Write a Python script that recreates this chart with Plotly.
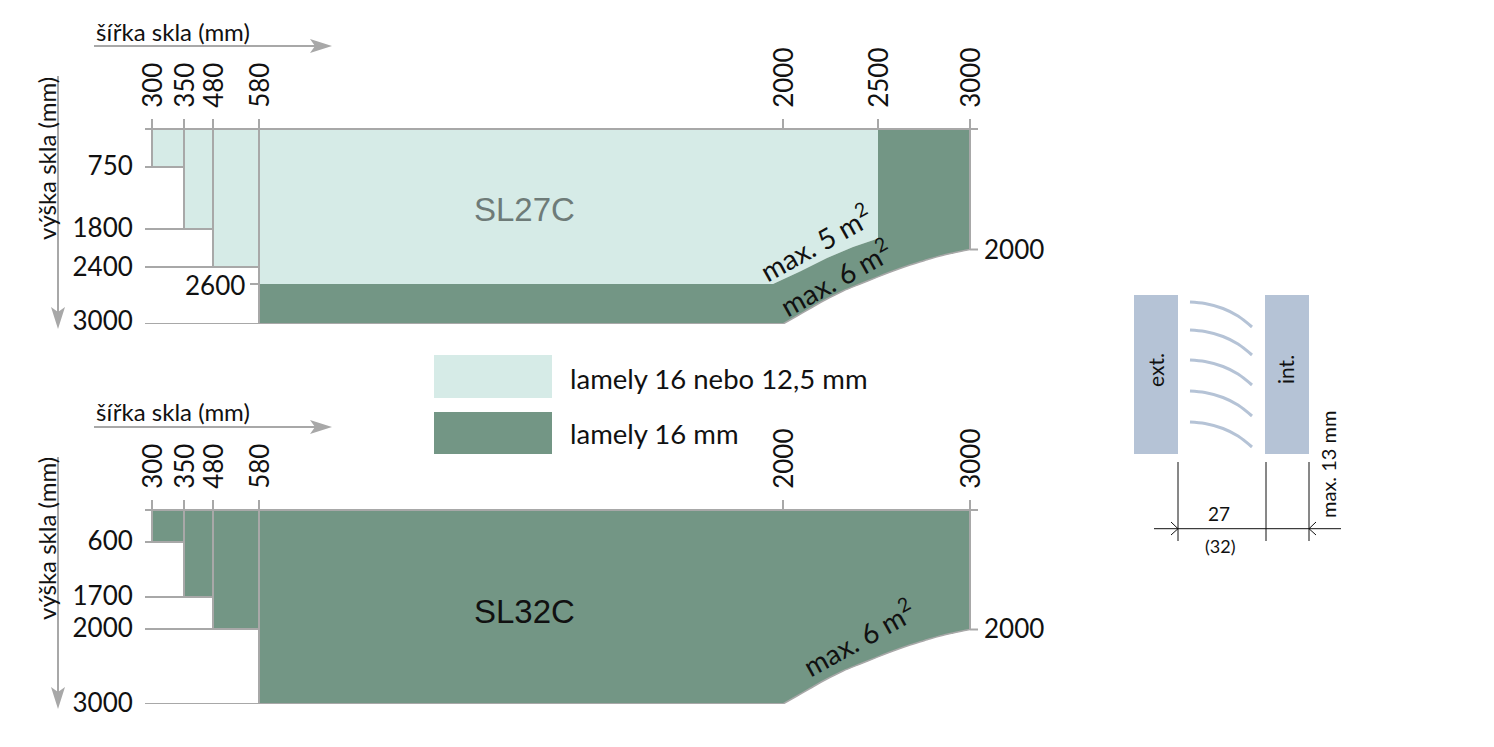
import plotly.graph_objects as go

LIGHT = "#D6EBE7"
DARK = "#739685"
GRAY = "#A8A8A8"
BLUE = "#B5C3D6"
INK = "#111111"
FONT = "Lato"

# Schematic scale: the reference's axes are not to scale, values are read as drawing positions
W, H = 1494, 747
x_left, x_right = 145, 978

width_labels_a = ["300", "350", "480", "580", "2000", "2500", "3000"]
width_pos_a = [152, 184, 213, 259, 783, 878, 970]
height_labels_a = ["750", "1800", "2400", "3000"]
height_pos_a = [166, 228, 267, 321]
step_x = [152, 184, 213, 259]
step_y_a = [167, 229, 267, 324]
top_a, bottom_a = 130, 324

width_labels_b = ["300", "350", "480", "580", "2000", "3000"]
width_pos_b = [152, 184, 213, 259, 783, 970]
height_labels_b = ["600", "1700", "2000", "3000"]
height_pos_b = [541, 596, 628, 703]
step_y_b = [542, 597, 629, 704]
top_b, bottom_b = 511, 704

curve6_x = [783, 797, 810, 826, 843, 860, 876, 893, 910, 927, 940, 953, 970]
curve6_a = [324, 316, 308.5, 299.5, 291, 284, 277.6, 271, 265, 259.8, 256, 253, 249.5]
curve6_b = [704, 696, 688.5, 679.5, 671, 664, 657.6, 651, 645, 639.8, 636, 633, 629.5]
curve5_x = [773, 800, 827, 853, 878]
curve5_y = [284, 271.5, 258, 247, 238.5]
light_floor = 284
split_x = 878

legend_labels = ["lamely 16 nebo 12,5 mm", "lamely 16 mm"]
lamella_x = [1190, 1205, 1223, 1238, 1252]
lamella_shape = [0, 1.5, 6.5, 14, 25]
lamella_start = [302, 330, 360, 391, 422]

fig = go.Figure()


def line(xs, ys, axis, color=GRAY, width=2, shape="linear"):
    fig.add_trace(go.Scatter(x=xs, y=ys, mode="lines", line=dict(color=color, width=width, shape=shape),
                             xaxis="x" + axis, yaxis="y" + axis, cliponaxis=False,
                             hoverinfo="skip", showlegend=False))


def area(xs, ys, axis, color):
    fig.add_trace(go.Scatter(x=xs, y=ys, mode="lines", fill="toself", fillcolor=color, line=dict(width=0),
                             xaxis="x" + axis, yaxis="y" + axis, cliponaxis=False,
                             hoverinfo="skip", showlegend=False))


# --- SL27C panel ---
area([step_x[0], split_x] + curve5_x[::-1] + [step_x[3], step_x[3], step_x[2], step_x[2], step_x[1], step_x[1], step_x[0]],
     [top_a, top_a] + curve5_y[::-1] + [light_floor, step_y_a[2], step_y_a[2], step_y_a[1], step_y_a[1], step_y_a[0], step_y_a[0]],
     "", LIGHT)
area([step_x[3]] + curve5_x + [split_x, curve6_x[-1]] + curve6_x[::-1] + [step_x[3]],
     [light_floor] + curve5_y + [top_a, top_a] + curve6_a[::-1] + [bottom_a],
     "", DARK)
for i, sx in enumerate(step_x):
    line([sx, sx], [top_a, step_y_a[i]], "")
line([x_left, step_x[1]], [step_y_a[0], step_y_a[0]], "")
line([x_left, step_x[2]], [step_y_a[1], step_y_a[1]], "")
line([x_left, step_x[3]], [step_y_a[2], step_y_a[2]], "")
line([x_left, curve6_x[0]], [step_y_a[3], step_y_a[3]], "")
line([250, step_x[3]], [light_floor, light_floor], "")
line(curve6_x, curve6_a, "", width=1.5, shape="spline")
line([curve6_x[-1], curve6_x[-1]], [top_a, curve6_a[-1]], "")
line([curve6_x[-1], x_right], [curve6_a[-1], curve6_a[-1]], "")

# --- SL32C panel ---
area([step_x[0], curve6_x[-1]] + curve6_x[::-1] + [step_x[3], step_x[3], step_x[2], step_x[2], step_x[1], step_x[1], step_x[0]],
     [top_b, top_b] + curve6_b[::-1] + [bottom_b, step_y_b[2], step_y_b[2], step_y_b[1], step_y_b[1], step_y_b[0], step_y_b[0]],
     "2", DARK)
for i, sx in enumerate(step_x):
    line([sx, sx], [top_b, step_y_b[i]], "2")
line([x_left, step_x[1]], [step_y_b[0], step_y_b[0]], "2")
line([x_left, step_x[2]], [step_y_b[1], step_y_b[1]], "2")
line([x_left, step_x[3]], [step_y_b[2], step_y_b[2]], "2")
line([x_left, curve6_x[0]], [step_y_b[3], step_y_b[3]], "2")
line(curve6_x, curve6_b, "2", width=1.5, shape="spline")
line([curve6_x[-1], curve6_x[-1]], [top_b, curve6_b[-1]], "2")
line([curve6_x[-1], x_right], [curve6_b[-1], curve6_b[-1]], "2")

# --- legend swatches ---
area([434, 552, 552, 434, 434], [355, 355, 398, 398, 355], "3", LIGHT)
area([434, 552, 552, 434, 434], [412, 412, 454, 454, 412], "3", DARK)

# --- section detail ---
area([1134, 1178, 1178, 1134, 1134], [295, 295, 454, 454, 295], "3", BLUE)
area([1265, 1309, 1309, 1265, 1265], [295, 295, 454, 454, 295], "3", BLUE)
for y0 in lamella_start:
    line(lamella_x, [y0 + d for d in lamella_shape], "3", color=BLUE, width=3, shape="spline")
for vx in [1178, 1266, 1309]:
    line([vx, vx], [462, 541], "3", color=INK, width=1)
line([1154, 1341], [528.7, 528.7], "3", color=INK, width=1)
line([1171, 1178, 1171], [522, 528.7, 535], "3", color=INK, width=1)
line([1316, 1309, 1316], [522, 528.7, 535], "3", color=INK, width=1)


def text(x, y, s, size=26, angle=0, color=INK, family=FONT, anchor="center", axis="3"):
    fig.add_annotation(x=x, y=y, text=s, xref="x" + axis, yref="y" + axis, showarrow=False, textangle=angle,
                       font=dict(family=family, size=size, color=color), xanchor=anchor, yanchor="middle")


def h_arrow(x0, x1, y):
    line([x0, x1 - 16], [y, y], "3")
    area([x1, x1 - 22, x1 - 17, x1 - 22, x1], [y, y - 7, y, y + 7, y], "3", GRAY)


def v_arrow(x, y0, y1):
    line([x, x], [y0, y1 - 16], "3")
    area([x, x - 7, x, x + 7, x], [y1, y1 - 22, y1 - 17, y1 - 22, y1], "3", GRAY)


for label_y, arrow_y in [(31, 46), (411, 427)]:
    text(173, label_y, "šířka skla (mm)", size=24)
    h_arrow(94, 332, arrow_y)
text(46, 159, "výška skla (mm)", size=24, angle=-90)
text(46, 539, "výška skla (mm)", size=24, angle=-90)
v_arrow(58, 76, 329)
v_arrow(58, 457, 709)

text(215, 285, "2600")
text(1014, 249, "2000")
text(1014, 628, "2000")
text(524, 209, "SL27C", size=33, color="#6E7B78", family="Liberation Sans")
text(524, 611, "SL32C", size=33, color=INK, family="Liberation Sans")
text(815, 242, "max. 5 m<sup>2</sup>", size=28, angle=-29)
text(835, 277, "max. 6 m<sup>2</sup>", size=28, angle=-29)
text(858, 637, "max. 6 m<sup>2</sup>", size=28, angle=-29)
text(568, 378, legend_labels[0], size=27.5, anchor="left")
text(568, 433, legend_labels[1], size=27.5, anchor="left")
text(1155, 370, "ext.", size=21, angle=-90)
text(1285, 370, "int.", size=21, angle=-90)
text(1328, 465, "max. 13 mm", size=20, angle=-90)
text(1219, 513, "27", size=19)
text(1220, 546, "(32)", size=18)

tick_font = dict(family=FONT, size=26, color=INK)
xcommon = dict(domain=[x_left / W, x_right / W], range=[x_left, x_right], side="top", showgrid=False, zeroline=False,
               showline=True, linecolor=GRAY, linewidth=2, ticks="outside", ticklen=9, tickwidth=2, tickcolor=GRAY,
               tickangle=-90, tickfont=tick_font, tickmode="array", ticklabelstandoff=6, ticklabelshift=2,
               automargin=False)
ycommon = dict(showgrid=False, zeroline=False, showline=False, ticks="outside", ticklen=6, automargin=False,
               tickcolor="rgba(0,0,0,0)", tickfont=tick_font, tickmode="array")

fig.update_layout(
    width=W, height=H, margin=dict(l=0, r=0, t=0, b=0, autoexpand=False), paper_bgcolor="white",
    plot_bgcolor="rgba(0,0,0,0)", showlegend=False,
    xaxis=dict(xcommon, tickvals=width_pos_a, ticktext=width_labels_a, anchor="y"),
    yaxis=dict(ycommon, domain=[1 - bottom_a / H, 1 - top_a / H], range=[bottom_a, top_a],
               tickvals=height_pos_a, ticktext=height_labels_a, anchor="x"),
    xaxis2=dict(xcommon, tickvals=width_pos_b, ticktext=width_labels_b, anchor="y2"),
    yaxis2=dict(ycommon, domain=[1 - bottom_b / H, 1 - top_b / H], range=[bottom_b, top_b],
                tickvals=height_pos_b, ticktext=height_labels_b, anchor="x2"),
    xaxis3=dict(domain=[0, 1], range=[0, W], visible=False, anchor="y3", automargin=False),
    yaxis3=dict(domain=[0, 1], range=[H, 0], visible=False, anchor="x3", automargin=False),
)

fig.write_html("out.html", config=dict(displayModeBar=False),
               post_script="document.body.style.margin='0';document.documentElement.style.overflow='hidden';")
